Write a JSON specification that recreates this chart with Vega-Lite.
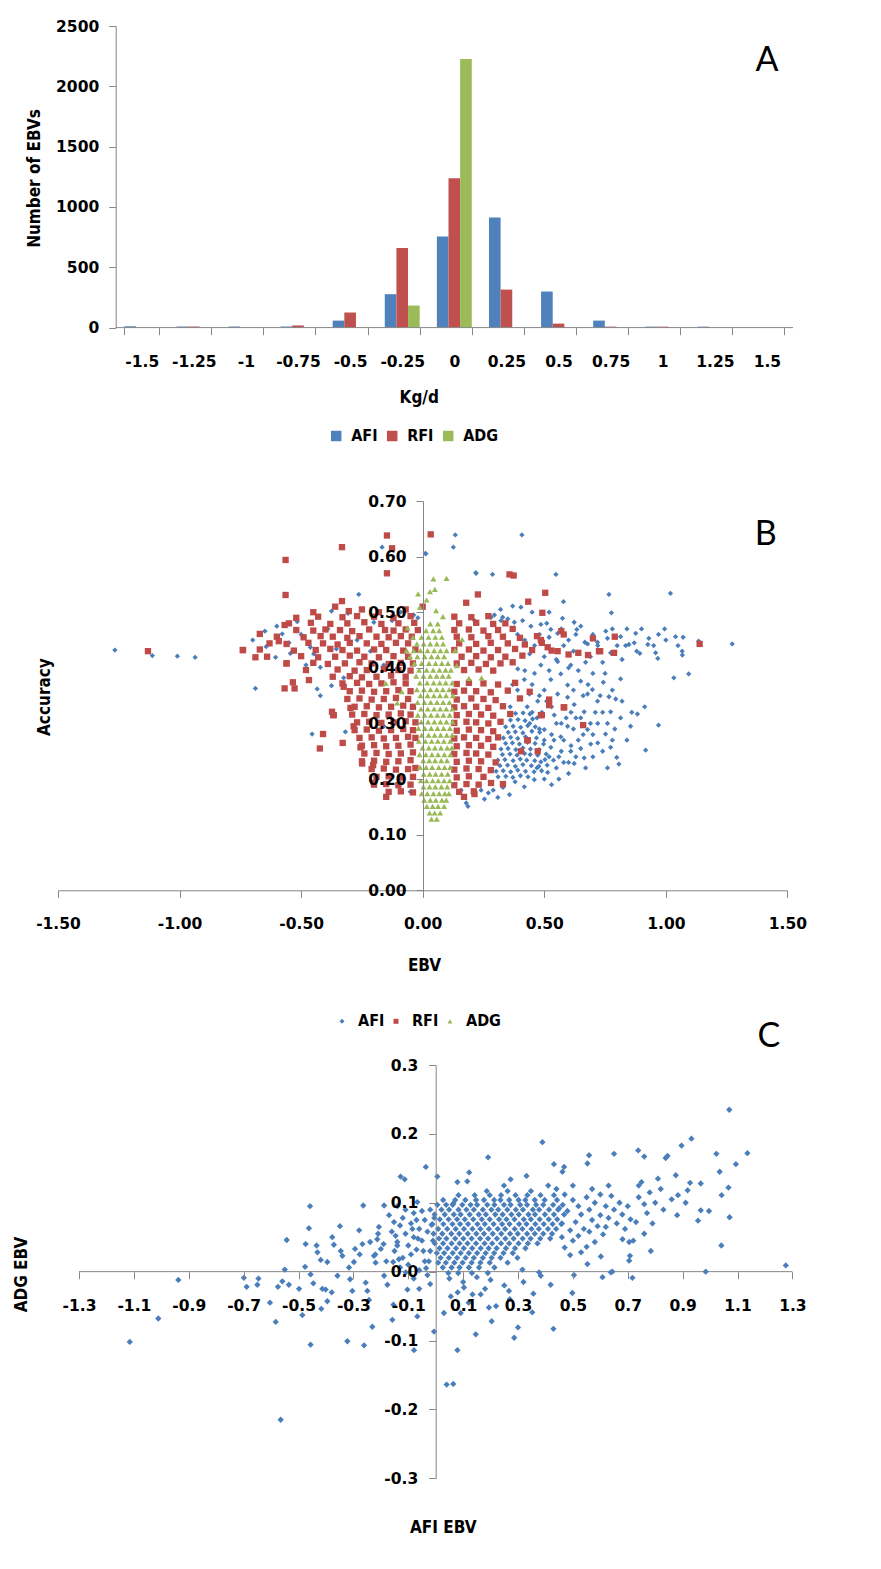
{
"$schema":"https://vega.github.io/schema/vega-lite/v6.json",
"background":"white",
"padding":{"left":8,"top":19,"right":0,"bottom":4},
"spacing":-11,
"config":{"view":{"stroke":null},"axis":{"domainColor":"#868686","tickColor":"#868686","tickSize":7,"grid":false,"labelFont":"DejaVu Sans","labelFontWeight":"bold","labelFontSize":15.5,"labelColor":"black","titleFont":"DejaVu Sans Condensed","titleFontWeight":"bold","titleFontSize":17,"titleColor":"black","labelFlush":false,"labelOverlap":false},"legend":{"symbolStrokeWidth":0,"labelFont":"DejaVu Sans Condensed","labelFontWeight":"bold","labelFontSize":16,"labelColor":"black","padding":0}},
"resolve":{"scale":{"color":"independent","shape":"independent"},"legend":{"color":"independent","shape":"independent"}},
"datasets":{
"histogram":[
{"k":"-1.5","s":"AFI","n":11},{"k":"-1.5","s":"RFI","n":0},{"k":"-1.5","s":"ADG","n":0},
{"k":"-1.25","s":"AFI","n":9},{"k":"-1.25","s":"RFI","n":9},{"k":"-1.25","s":"ADG","n":0},
{"k":"-1","s":"AFI","n":9},{"k":"-1","s":"RFI","n":0},{"k":"-1","s":"ADG","n":0},
{"k":"-0.75","s":"AFI","n":9},{"k":"-0.75","s":"RFI","n":18},{"k":"-0.75","s":"ADG","n":0},
{"k":"-0.5","s":"AFI","n":58},{"k":"-0.5","s":"RFI","n":125},{"k":"-0.5","s":"ADG","n":0},
{"k":"-0.25","s":"AFI","n":277},{"k":"-0.25","s":"RFI","n":659},{"k":"-0.25","s":"ADG","n":183},
{"k":"0","s":"AFI","n":756},{"k":"0","s":"RFI","n":1237},{"k":"0","s":"ADG","n":2226},
{"k":"0.25","s":"AFI","n":913},{"k":"0.25","s":"RFI","n":315},{"k":"0.25","s":"ADG","n":0},
{"k":"0.5","s":"AFI","n":299},{"k":"0.5","s":"RFI","n":33},{"k":"0.5","s":"ADG","n":0},
{"k":"0.75","s":"AFI","n":58},{"k":"0.75","s":"RFI","n":8},{"k":"0.75","s":"ADG","n":0},
{"k":"1","s":"AFI","n":8},{"k":"1","s":"RFI","n":8},{"k":"1","s":"ADG","n":0},
{"k":"1.25","s":"AFI","n":8},{"k":"1.25","s":"RFI","n":0},{"k":"1.25","s":"ADG","n":0},
{"k":"1.5","s":"AFI","n":0},{"k":"1.5","s":"RFI","n":0},{"k":"1.5","s":"ADG","n":0}
],
"afi_accuracy":[
{"x":-1.266,"y":0.432},{"x":-1.112,"y":0.422},{"x":-1.009,"y":0.421},{"x":-0.936,"y":0.419},
{"x":-0.699,"y":0.45},{"x":-0.649,"y":0.466},{"x":-0.644,"y":0.438},{"x":-0.605,"y":0.419},{"x":-0.688,"y":0.363},{"x":-0.578,"y":0.461},{"x":-0.544,"y":0.426},{"x":-0.516,"y":0.483},{"x":-0.448,"y":0.425},{"x":-0.462,"y":0.437},{"x":-0.434,"y":0.362},{"x":-0.421,"y":0.35},{"x":-0.455,"y":0.281},{"x":-0.421,"y":0.401},{"x":-0.375,"y":0.502},{"x":-0.375,"y":0.368},{"x":-0.325,"y":0.382},{"x":-0.318,"y":0.285},{"x":-0.263,"y":0.532},{"x":-0.247,"y":0.227},{"x":-0.167,"y":0.617},{"x":-0.037,"y":0.495},{"x":-0.051,"y":0.177},{"x":0.011,"y":0.606},{"x":-0.355,"y":0.434},{"x":-0.307,"y":0.498},{"x":-0.215,"y":0.43},{"x":-0.16,"y":0.405},{"x":-0.16,"y":0.295},{"x":-0.092,"y":0.193},{"x":-0.201,"y":0.482},{"x":-0.126,"y":0.485},{"x":-0.6,"y":0.475},{"x":-0.55,"y":0.445},{"x":-0.5,"y":0.46},{"x":-0.48,"y":0.405},{"x":-0.39,"y":0.47},{"x":-0.27,"y":0.45},{"x":-0.09,"y":0.5},{"x":-0.02,"y":0.49},
{"x":0.134,"y":0.639},{"x":0.126,"y":0.617},{"x":0.013,"y":0.605},{"x":0.218,"y":0.571},{"x":0.287,"y":0.568},{"x":0.408,"y":0.639},{"x":0.548,"y":0.568},{"x":0.22,"y":0.57},{"x":1.019,"y":0.534},{"x":0.766,"y":0.532},{"x":0.579,"y":0.519},{"x":0.776,"y":0.499},{"x":0.404,"y":0.509},{"x":0.37,"y":0.511},{"x":0.32,"y":0.505},{"x":0.45,"y":0.5},{"x":0.52,"y":0.5},
{"x":0.575,"y":0.489},{"x":0.623,"y":0.482},{"x":0.634,"y":0.469},{"x":0.667,"y":0.446},{"x":0.753,"y":0.466},{"x":0.814,"y":0.456},{"x":0.835,"y":0.44},{"x":0.876,"y":0.462},{"x":0.893,"y":0.426},{"x":0.93,"y":0.453},{"x":0.926,"y":0.442},{"x":0.958,"y":0.427},{"x":0.967,"y":0.417},{"x":0.995,"y":0.47},{"x":1.04,"y":0.456},{"x":1.071,"y":0.455},{"x":1.067,"y":0.43},{"x":1.068,"y":0.423},{"x":1.094,"y":0.389},{"x":1.033,"y":0.382},{"x":1.273,"y":0.443},{"x":1.135,"y":0.448},{"x":0.848,"y":0.442},{"x":0.773,"y":0.427},{"x":0.732,"y":0.43},{"x":0.678,"y":0.443},{"x":0.719,"y":0.446},{"x":0.76,"y":0.453},{"x":0.295,"y":0.495},{"x":0.322,"y":0.485},{"x":0.35,"y":0.488},{"x":0.377,"y":0.482},{"x":0.411,"y":0.485},{"x":0.445,"y":0.475},{"x":0.486,"y":0.478},{"x":0.527,"y":0.469},{"x":0.555,"y":0.462},{"x":0.281,"y":0.491},{"x":0.213,"y":0.485},{"x":0.329,"y":0.491},{"x":0.6,"y":0.45},{"x":0.65,"y":0.475},{"x":0.7,"y":0.46},{"x":0.8,"y":0.44},{"x":0.87,"y":0.445},{"x":0.9,"y":0.47},{"x":0.55,"y":0.415},{"x":0.62,"y":0.43},{"x":0.5,"y":0.42},{"x":0.46,"y":0.44},{"x":0.58,"y":0.44},{"x":0.69,"y":0.42},{"x":0.74,"y":0.41},{"x":0.82,"y":0.415},{"x":0.95,"y":0.44},{"x":1.0,"y":0.45},{"x":0.52,"y":0.455},{"x":0.44,"y":0.425},
{"x":0.6,"y":0.4},{"x":0.67,"y":0.41},{"x":0.72,"y":0.44},{"x":0.78,"y":0.47},{"x":0.84,"y":0.47},{"x":0.88,"y":0.43},{"x":0.97,"y":0.46},{"x":1.05,"y":0.44},{"x":0.63,"y":0.46},{"x":0.57,"y":0.47},{"x":0.48,"y":0.46},{"x":0.42,"y":0.45},{"x":0.39,"y":0.46},{"x":0.51,"y":0.48},
{"x":0.527,"y":0.379},{"x":0.568,"y":0.389},{"x":0.596,"y":0.369},{"x":0.65,"y":0.376},{"x":0.678,"y":0.353},{"x":0.719,"y":0.34},{"x":0.623,"y":0.334},{"x":0.596,"y":0.347},{"x":0.555,"y":0.353},{"x":0.5,"y":0.36},{"x":0.473,"y":0.34},{"x":0.439,"y":0.353},{"x":0.418,"y":0.379},{"x":0.391,"y":0.398},{"x":0.555,"y":0.411},{"x":0.609,"y":0.405},{"x":0.486,"y":0.405},{"x":0.814,"y":0.38},{"x":0.743,"y":0.374},{"x":0.698,"y":0.361},{"x":0.766,"y":0.348},{"x":0.794,"y":0.344},{"x":0.913,"y":0.33},{"x":0.46,"y":0.39},{"x":0.52,"y":0.395},{"x":0.64,"y":0.395},{"x":0.7,"y":0.39},{"x":0.45,"y":0.37},{"x":0.37,"y":0.37},{"x":0.4,"y":0.345},{"x":0.36,"y":0.33},{"x":0.66,"y":0.35},{"x":0.75,"y":0.39},
{"x":0.56,"y":0.2},{"x":0.53,"y":0.19},{"x":0.6,"y":0.23},{"x":0.63,"y":0.24},{"x":0.66,"y":0.28},{"x":0.69,"y":0.3},{"x":0.71,"y":0.32},{"x":0.76,"y":0.3},{"x":0.79,"y":0.29},{"x":0.84,"y":0.27},{"x":0.86,"y":0.32},{"x":0.82,"y":0.34},{"x":0.78,"y":0.36},{"x":0.73,"y":0.35},{"x":0.68,"y":0.37},{"x":0.62,"y":0.36},{"x":0.58,"y":0.33},{"x":0.51,"y":0.34},{"x":0.48,"y":0.35},{"x":0.43,"y":0.33},{"x":0.39,"y":0.36},{"x":0.42,"y":0.395},{"x":0.35,"y":0.36},{"x":0.58,"y":0.27},{"x":0.61,"y":0.26},{"x":0.67,"y":0.22},{"x":0.56,"y":0.24},{"x":0.53,"y":0.28},{"x":0.5,"y":0.27},{"x":0.48,"y":0.29},{"x":0.45,"y":0.32},{"x":0.59,"y":0.31},{"x":0.65,"y":0.31},{"x":0.7,"y":0.28},{"x":0.74,"y":0.25},{"x":0.76,"y":0.22},
{"x":0.883,"y":0.317},{"x":0.97,"y":0.297},{"x":0.855,"y":0.295},{"x":0.814,"y":0.31},{"x":0.773,"y":0.321},{"x":0.752,"y":0.281},{"x":0.78,"y":0.27},{"x":0.773,"y":0.257},{"x":0.798,"y":0.239},{"x":0.807,"y":0.227},{"x":0.917,"y":0.252},{"x":0.664,"y":0.321},{"x":0.678,"y":0.289},{"x":0.691,"y":0.263},{"x":0.664,"y":0.238},{"x":0.623,"y":0.228},{"x":0.609,"y":0.25},{"x":0.568,"y":0.276},{"x":0.596,"y":0.295},{"x":0.541,"y":0.315},{"x":0.5,"y":0.289},{"x":0.527,"y":0.257},{"x":0.486,"y":0.231},{"x":0.514,"y":0.212},{"x":0.459,"y":0.199},{"x":0.418,"y":0.186},{"x":0.357,"y":0.172},{"x":0.309,"y":0.167},{"x":0.254,"y":0.164},{"x":0.186,"y":0.151},{"x":0.179,"y":0.157},{"x":0.213,"y":0.173},{"x":0.158,"y":0.18},{"x":0.63,"y":0.31},{"x":0.72,"y":0.3},{"x":0.74,"y":0.32},{"x":0.64,"y":0.27},{"x":0.7,"y":0.24},{"x":0.58,"y":0.23},{"x":0.55,"y":0.22},{"x":0.6,"y":0.21},{"x":0.65,"y":0.255},{"x":0.72,"y":0.265},{"x":0.55,"y":0.3},{"x":0.61,"y":0.32},{"x":0.53,"y":0.33},{"x":0.47,"y":0.31},{"x":0.44,"y":0.3},{"x":0.49,"y":0.32},{"x":0.57,"y":0.25},{"x":0.54,"y":0.27},{"x":0.52,"y":0.24},{"x":0.57,"y":0.3},{"x":0.62,"y":0.29},{"x":0.5,"y":0.2},{"x":0.47,"y":0.22},{"x":0.29,"y":0.18},{"x":0.33,"y":0.185},{"x":0.38,"y":0.195},{"x":0.27,"y":0.175},{"x":0.24,"y":0.18},
{"x":0.31,"y":0.204},{"x":0.342,"y":0.205},{"x":0.371,"y":0.203},{"x":0.402,"y":0.206},{"x":0.433,"y":0.204},{"x":0.302,"y":0.214},{"x":0.331,"y":0.215},{"x":0.362,"y":0.213},{"x":0.391,"y":0.216},{"x":0.423,"y":0.214},{"x":0.458,"y":0.213},{"x":0.489,"y":0.215},{"x":0.318,"y":0.224},{"x":0.349,"y":0.225},{"x":0.381,"y":0.223},{"x":0.412,"y":0.226},{"x":0.447,"y":0.224},{"x":0.478,"y":0.223},{"x":0.512,"y":0.225},{"x":0.309,"y":0.234},{"x":0.338,"y":0.235},{"x":0.372,"y":0.233},{"x":0.401,"y":0.236},{"x":0.428,"y":0.234},{"x":0.461,"y":0.233},{"x":0.503,"y":0.235},{"x":0.538,"y":0.234},{"x":0.328,"y":0.244},{"x":0.359,"y":0.245},{"x":0.388,"y":0.243},{"x":0.419,"y":0.246},{"x":0.442,"y":0.244},{"x":0.473,"y":0.243},{"x":0.508,"y":0.245},{"x":0.322,"y":0.254},{"x":0.351,"y":0.255},{"x":0.383,"y":0.253},{"x":0.412,"y":0.256},{"x":0.443,"y":0.254},{"x":0.479,"y":0.253},{"x":0.341,"y":0.264},{"x":0.369,"y":0.265},{"x":0.398,"y":0.263},{"x":0.431,"y":0.266},{"x":0.462,"y":0.264},{"x":0.497,"y":0.263},{"x":0.332,"y":0.274},{"x":0.362,"y":0.275},{"x":0.391,"y":0.273},{"x":0.423,"y":0.276},{"x":0.468,"y":0.274},{"x":0.352,"y":0.284},{"x":0.381,"y":0.285},{"x":0.412,"y":0.283},{"x":0.449,"y":0.286},{"x":0.481,"y":0.284},{"x":0.341,"y":0.294},{"x":0.372,"y":0.295},{"x":0.403,"y":0.293},{"x":0.432,"y":0.296},{"x":0.463,"y":0.294},{"x":0.361,"y":0.306},{"x":0.392,"y":0.307},{"x":0.421,"y":0.305},{"x":0.452,"y":0.308},{"x":0.382,"y":0.318},{"x":0.413,"y":0.319},{"x":0.441,"y":0.317}
],
"rfi_accuracy":[
{"x":-0.43,"y":0.492},{"x":-0.33,"y":0.491},{"x":-0.27,"y":0.493},{"x":-0.2,"y":0.492},{"x":-0.12,"y":0.49},{"x":-0.05,"y":0.493},
{"x":-0.55,"y":0.48},{"x":-0.46,"y":0.481},{"x":-0.38,"y":0.479},{"x":-0.31,"y":0.48},{"x":-0.24,"y":0.482},{"x":-0.17,"y":0.479},{"x":-0.1,"y":0.48},{"x":-0.035,"y":0.481},
{"x":-0.52,"y":0.468},{"x":-0.45,"y":0.467},{"x":-0.4,"y":0.469},{"x":-0.34,"y":0.468},{"x":-0.29,"y":0.466},{"x":-0.22,"y":0.469},{"x":-0.155,"y":0.468},{"x":-0.12,"y":0.467},{"x":-0.07,"y":0.469},{"x":-0.02,"y":0.468},
{"x":-0.6,"y":0.456},{"x":-0.49,"y":0.455},{"x":-0.42,"y":0.457},{"x":-0.37,"y":0.456},{"x":-0.31,"y":0.454},{"x":-0.26,"y":0.457},{"x":-0.19,"y":0.456},{"x":-0.14,"y":0.455},{"x":-0.09,"y":0.457},{"x":-0.045,"y":0.456},
{"x":-0.63,"y":0.444},{"x":-0.56,"y":0.443},{"x":-0.47,"y":0.445},{"x":-0.41,"y":0.444},{"x":-0.35,"y":0.442},{"x":-0.3,"y":0.445},{"x":-0.23,"y":0.444},{"x":-0.17,"y":0.443},{"x":-0.11,"y":0.445},{"x":-0.06,"y":0.444},
{"x":-0.74,"y":0.432},{"x":-0.67,"y":0.433},{"x":-0.53,"y":0.431},{"x":-0.44,"y":0.432},{"x":-0.38,"y":0.434},{"x":-0.33,"y":0.432},{"x":-0.27,"y":0.431},{"x":-0.2,"y":0.433},{"x":-0.15,"y":0.432},{"x":-0.08,"y":0.431},{"x":-0.03,"y":0.433},
{"x":-0.64,"y":0.42},{"x":-0.5,"y":0.421},{"x":-0.43,"y":0.419},{"x":-0.36,"y":0.42},{"x":-0.3,"y":0.422},{"x":-0.24,"y":0.42},{"x":-0.18,"y":0.419},{"x":-0.12,"y":0.421},{"x":-0.06,"y":0.42},
{"x":-0.56,"y":0.408},{"x":-0.45,"y":0.409},{"x":-0.39,"y":0.407},{"x":-0.32,"y":0.408},{"x":-0.26,"y":0.41},{"x":-0.21,"y":0.408},{"x":-0.14,"y":0.407},{"x":-0.09,"y":0.409},{"x":-0.04,"y":0.408},
{"x":-0.48,"y":0.396},{"x":-0.35,"y":0.397},{"x":-0.28,"y":0.395},{"x":-0.23,"y":0.396},{"x":-0.16,"y":0.398},{"x":-0.1,"y":0.396},{"x":-0.05,"y":0.395},
{"x":-0.37,"y":0.384},{"x":-0.3,"y":0.385},{"x":-0.25,"y":0.383},{"x":-0.19,"y":0.384},{"x":-0.13,"y":0.386},{"x":-0.07,"y":0.384},
{"x":-1.13,"y":0.43},{"x":-0.739,"y":0.432},{"x":-0.688,"y":0.419},{"x":-0.67,"y":0.461},{"x":-0.592,"y":0.448},{"x":-0.568,"y":0.477},{"x":-0.564,"y":0.531},{"x":-0.564,"y":0.594},{"x":-0.56,"y":0.408},{"x":-0.568,"y":0.363},{"x":-0.527,"y":0.363},{"x":-0.534,"y":0.374},{"x":-0.468,"y":0.378},{"x":-0.41,"y":0.281},{"x":-0.423,"y":0.255},{"x":-0.329,"y":0.265},{"x":-0.368,"y":0.315},{"x":-0.332,"y":0.617},{"x":-0.147,"y":0.638},{"x":-0.126,"y":0.615},{"x":-0.147,"y":0.57},{"x":-0.332,"y":0.52},{"x":-0.304,"y":0.502},{"x":0.033,"y":0.64},{"x":-0.52,"y":0.49},{"x":-0.45,"y":0.5},{"x":-0.36,"y":0.51},{"x":-0.25,"y":0.505},{"x":-0.18,"y":0.5},{"x":-0.07,"y":0.505},{"x":0.0,"y":0.51},
{"x":0.13,"y":0.492},{"x":0.2,"y":0.491},{"x":0.27,"y":0.493},
{"x":0.15,"y":0.48},{"x":0.22,"y":0.481},{"x":0.29,"y":0.479},{"x":0.34,"y":0.48},
{"x":0.13,"y":0.468},{"x":0.19,"y":0.469},{"x":0.25,"y":0.467},{"x":0.31,"y":0.468},{"x":0.37,"y":0.47},{"x":0.57,"y":0.466},
{"x":0.14,"y":0.456},{"x":0.2,"y":0.455},{"x":0.27,"y":0.457},{"x":0.33,"y":0.456},{"x":0.4,"y":0.454},{"x":0.47,"y":0.457},{"x":0.79,"y":0.456},
{"x":0.15,"y":0.444},{"x":0.22,"y":0.443},{"x":0.28,"y":0.445},{"x":0.35,"y":0.444},{"x":0.42,"y":0.442},{"x":0.49,"y":0.445},{"x":0.7,"y":0.453},
{"x":0.13,"y":0.432},{"x":0.19,"y":0.433},{"x":0.25,"y":0.431},{"x":0.31,"y":0.432},{"x":0.38,"y":0.434},{"x":0.45,"y":0.432},{"x":0.53,"y":0.431},{"x":0.6,"y":0.424},{"x":0.73,"y":0.43},
{"x":0.16,"y":0.42},{"x":0.22,"y":0.421},{"x":0.28,"y":0.419},{"x":0.34,"y":0.42},{"x":0.41,"y":0.422},{"x":0.64,"y":0.427},{"x":0.68,"y":0.423},
{"x":0.14,"y":0.408},{"x":0.2,"y":0.409},{"x":0.26,"y":0.407},{"x":0.32,"y":0.408},{"x":0.37,"y":0.41},
{"x":0.17,"y":0.396},{"x":0.23,"y":0.397},{"x":0.29,"y":0.395},
{"x":0.357,"y":0.568},{"x":0.374,"y":0.566},{"x":0.227,"y":0.532},{"x":0.179,"y":0.517},{"x":0.504,"y":0.535},{"x":0.434,"y":0.519},{"x":0.492,"y":0.499},{"x":1.139,"y":0.443},{"x":0.787,"y":0.427},{"x":0.725,"y":0.43},{"x":0.555,"y":0.43},{"x":0.514,"y":0.437},{"x":0.486,"y":0.45},{"x":0.58,"y":0.46},
{"x":-0.33,"y":0.372},{"x":-0.27,"y":0.373},{"x":-0.22,"y":0.371},{"x":-0.17,"y":0.372},{"x":-0.12,"y":0.374},{"x":-0.07,"y":0.372},{"x":0.14,"y":0.371},{"x":0.19,"y":0.373},{"x":0.25,"y":0.372},{"x":0.31,"y":0.37},{"x":0.38,"y":0.373},
{"x":-0.3,"y":0.358},{"x":-0.25,"y":0.359},{"x":-0.2,"y":0.357},{"x":-0.15,"y":0.358},{"x":-0.1,"y":0.36},{"x":-0.05,"y":0.358},{"x":0.13,"y":0.357},{"x":0.17,"y":0.359},{"x":0.22,"y":0.358},{"x":0.28,"y":0.356},{"x":0.35,"y":0.359},{"x":0.44,"y":0.357},
{"x":-0.31,"y":0.344},{"x":-0.26,"y":0.345},{"x":-0.21,"y":0.343},{"x":-0.16,"y":0.344},{"x":-0.11,"y":0.346},{"x":-0.06,"y":0.344},{"x":0.14,"y":0.343},{"x":0.2,"y":0.345},{"x":0.25,"y":0.344},{"x":0.3,"y":0.342},{"x":0.4,"y":0.345},{"x":0.52,"y":0.343},
{"x":-0.28,"y":0.33},{"x":-0.23,"y":0.331},{"x":-0.18,"y":0.329},{"x":-0.13,"y":0.33},{"x":-0.08,"y":0.332},{"x":-0.04,"y":0.33},{"x":0.13,"y":0.329},{"x":0.17,"y":0.331},{"x":0.22,"y":0.33},{"x":0.27,"y":0.328},{"x":0.33,"y":0.331},{"x":0.58,"y":0.329},
{"x":-0.29,"y":0.316},{"x":-0.24,"y":0.317},{"x":-0.19,"y":0.315},{"x":-0.14,"y":0.316},{"x":-0.09,"y":0.318},{"x":-0.05,"y":0.316},{"x":0.14,"y":0.315},{"x":0.19,"y":0.317},{"x":0.24,"y":0.316},{"x":0.29,"y":0.314},{"x":0.36,"y":0.317},{"x":0.49,"y":0.315},
{"x":-0.27,"y":0.302},{"x":-0.22,"y":0.303},{"x":-0.17,"y":0.301},{"x":-0.12,"y":0.302},{"x":-0.07,"y":0.304},{"x":-0.03,"y":0.302},{"x":0.13,"y":0.301},{"x":0.18,"y":0.303},{"x":0.22,"y":0.302},{"x":0.27,"y":0.3},{"x":0.32,"y":0.303},
{"x":-0.28,"y":0.288},{"x":-0.23,"y":0.289},{"x":-0.18,"y":0.287},{"x":-0.13,"y":0.288},{"x":-0.08,"y":0.29},{"x":-0.04,"y":0.288},{"x":0.14,"y":0.287},{"x":0.19,"y":0.289},{"x":0.24,"y":0.288},{"x":0.29,"y":0.286},{"x":0.66,"y":0.297},
{"x":-0.26,"y":0.274},{"x":-0.21,"y":0.275},{"x":-0.16,"y":0.273},{"x":-0.11,"y":0.274},{"x":-0.06,"y":0.276},{"x":-0.03,"y":0.274},{"x":0.13,"y":0.273},{"x":0.17,"y":0.275},{"x":0.22,"y":0.274},{"x":0.27,"y":0.272},{"x":0.31,"y":0.275},{"x":0.43,"y":0.27},
{"x":-0.25,"y":0.26},{"x":-0.2,"y":0.261},{"x":-0.15,"y":0.259},{"x":-0.1,"y":0.26},{"x":-0.05,"y":0.262},{"x":0.14,"y":0.259},{"x":0.19,"y":0.261},{"x":0.24,"y":0.26},{"x":0.29,"y":0.258},{"x":0.404,"y":0.25},{"x":0.473,"y":0.25},
{"x":-0.24,"y":0.246},{"x":-0.19,"y":0.247},{"x":-0.14,"y":0.245},{"x":-0.09,"y":0.246},{"x":-0.04,"y":0.248},{"x":0.13,"y":0.245},{"x":0.18,"y":0.247},{"x":0.22,"y":0.246},{"x":0.27,"y":0.244},
{"x":-0.25,"y":0.232},{"x":-0.2,"y":0.233},{"x":-0.15,"y":0.231},{"x":-0.1,"y":0.232},{"x":-0.05,"y":0.234},{"x":0.14,"y":0.231},{"x":0.19,"y":0.233},{"x":0.24,"y":0.232},{"x":0.3,"y":0.23},
{"x":-0.21,"y":0.218},{"x":-0.16,"y":0.219},{"x":-0.11,"y":0.217},{"x":-0.06,"y":0.218},{"x":-0.03,"y":0.22},{"x":0.13,"y":0.217},{"x":0.18,"y":0.219},{"x":0.23,"y":0.218},{"x":0.28,"y":0.216},
{"x":-0.19,"y":0.204},{"x":-0.14,"y":0.205},{"x":-0.09,"y":0.203},{"x":-0.04,"y":0.204},{"x":0.14,"y":0.203},{"x":0.19,"y":0.205},{"x":0.25,"y":0.204},
{"x":-0.2,"y":0.19},{"x":-0.15,"y":0.191},{"x":-0.1,"y":0.189},{"x":-0.05,"y":0.19},{"x":0.13,"y":0.189},{"x":0.18,"y":0.191},{"x":0.23,"y":0.19},{"x":0.33,"y":0.191},
{"x":-0.14,"y":0.177},{"x":-0.09,"y":0.178},{"x":-0.04,"y":0.176},{"x":0.15,"y":0.177},{"x":0.21,"y":0.178},{"x":-0.15,"y":0.168},{"x":0.17,"y":0.168},
{"x":-0.325,"y":0.366},{"x":-0.297,"y":0.328},{"x":-0.284,"y":0.295},{"x":-0.256,"y":0.257},{"x":-0.249,"y":0.228},{"x":-0.204,"y":0.225},{"x":-0.201,"y":0.193},{"x":-0.366,"y":0.315},{"x":-0.373,"y":0.321},{"x":0.213,"y":0.173},{"x":0.281,"y":0.193},{"x":0.432,"y":0.27},{"x":0.52,"y":0.333},{"x":0.582,"y":0.329},{"x":0.486,"y":0.315}
],
"adg_accuracy":[
{"x":0.036,"y":0.128},{"x":0.058,"y":0.128},
{"x":0.028,"y":0.139},{"x":0.049,"y":0.139},{"x":0.072,"y":0.139},
{"x":0.017,"y":0.151},{"x":0.041,"y":0.151},{"x":0.063,"y":0.151},{"x":0.088,"y":0.151},
{"x":0.006,"y":0.162},{"x":0.031,"y":0.162},{"x":0.054,"y":0.162},{"x":0.079,"y":0.162},{"x":0.097,"y":0.162},
{"x":-0.004,"y":0.174},{"x":0.019,"y":0.174},{"x":0.044,"y":0.174},{"x":0.068,"y":0.174},{"x":0.091,"y":0.174},{"x":0.108,"y":0.174},
{"x":0.003,"y":0.186},{"x":0.028,"y":0.186},{"x":0.052,"y":0.186},{"x":0.077,"y":0.186},{"x":0.101,"y":0.186},
{"x":-0.008,"y":0.197},{"x":0.016,"y":0.197},{"x":0.041,"y":0.197},{"x":0.064,"y":0.197},{"x":0.088,"y":0.197},{"x":0.111,"y":0.197},
{"x":0.004,"y":0.209},{"x":0.029,"y":0.209},{"x":0.053,"y":0.209},{"x":0.078,"y":0.209},{"x":0.103,"y":0.209},
{"x":-0.011,"y":0.221},{"x":0.014,"y":0.221},{"x":0.039,"y":0.221},{"x":0.066,"y":0.221},{"x":0.09,"y":0.221},{"x":0.113,"y":0.221},
{"x":0.002,"y":0.233},{"x":0.027,"y":0.233},{"x":0.051,"y":0.233},{"x":0.076,"y":0.233},{"x":0.1,"y":0.233},
{"x":-0.013,"y":0.244},{"x":0.013,"y":0.244},{"x":0.038,"y":0.244},{"x":0.063,"y":0.244},{"x":0.089,"y":0.244},{"x":0.114,"y":0.244},
{"x":-0.001,"y":0.256},{"x":0.025,"y":0.256},{"x":0.05,"y":0.256},{"x":0.075,"y":0.256},{"x":0.101,"y":0.256},{"x":0.12,"y":0.256},
{"x":-0.016,"y":0.268},{"x":0.011,"y":0.268},{"x":0.037,"y":0.268},{"x":0.062,"y":0.268},{"x":0.087,"y":0.268},{"x":0.113,"y":0.268},
{"x":-0.004,"y":0.279},{"x":0.024,"y":0.279},{"x":0.049,"y":0.279},{"x":0.074,"y":0.279},{"x":0.099,"y":0.279},{"x":0.121,"y":0.279},
{"x":-0.018,"y":0.291},{"x":0.009,"y":0.291},{"x":0.035,"y":0.291},{"x":0.061,"y":0.291},{"x":0.086,"y":0.291},{"x":0.112,"y":0.291},
{"x":-0.006,"y":0.303},{"x":0.022,"y":0.303},{"x":0.048,"y":0.303},{"x":0.073,"y":0.303},{"x":0.098,"y":0.303},{"x":0.123,"y":0.303},
{"x":-0.02,"y":0.315},{"x":0.008,"y":0.315},{"x":0.034,"y":0.315},{"x":0.06,"y":0.315},{"x":0.085,"y":0.315},{"x":0.111,"y":0.315},
{"x":-0.007,"y":0.326},{"x":0.021,"y":0.326},{"x":0.047,"y":0.326},{"x":0.072,"y":0.326},{"x":0.097,"y":0.326},{"x":0.122,"y":0.326},
{"x":-0.021,"y":0.338},{"x":0.007,"y":0.338},{"x":0.033,"y":0.338},{"x":0.059,"y":0.338},{"x":0.084,"y":0.338},{"x":0.11,"y":0.338},
{"x":-0.009,"y":0.35},{"x":0.02,"y":0.35},{"x":0.046,"y":0.35},{"x":0.071,"y":0.35},{"x":0.096,"y":0.35},{"x":0.124,"y":0.35},
{"x":-0.024,"y":0.361},{"x":0.005,"y":0.361},{"x":0.032,"y":0.361},{"x":0.058,"y":0.361},{"x":0.083,"y":0.361},{"x":0.109,"y":0.361},
{"x":-0.012,"y":0.373},{"x":0.018,"y":0.373},{"x":0.045,"y":0.373},{"x":0.07,"y":0.373},{"x":0.095,"y":0.373},{"x":0.121,"y":0.373},
{"x":-0.027,"y":0.385},{"x":0.003,"y":0.385},{"x":0.031,"y":0.385},{"x":0.057,"y":0.385},{"x":0.082,"y":0.385},{"x":0.107,"y":0.385},
{"x":-0.015,"y":0.396},{"x":0.016,"y":0.396},{"x":0.043,"y":0.396},{"x":0.069,"y":0.396},{"x":0.094,"y":0.396},{"x":0.116,"y":0.396},
{"x":-0.034,"y":0.408},{"x":-0.004,"y":0.408},{"x":0.026,"y":0.408},{"x":0.053,"y":0.408},{"x":0.079,"y":0.408},{"x":0.104,"y":0.408},
{"x":-0.052,"y":0.42},{"x":-0.022,"y":0.42},{"x":0.008,"y":0.42},{"x":0.036,"y":0.42},{"x":0.062,"y":0.42},{"x":0.088,"y":0.42},
{"x":-0.066,"y":0.431},{"x":-0.037,"y":0.431},{"x":-0.009,"y":0.431},{"x":0.02,"y":0.431},{"x":0.047,"y":0.431},{"x":0.073,"y":0.431},{"x":0.098,"y":0.431},
{"x":-0.024,"y":0.443},{"x":0.004,"y":0.443},{"x":0.031,"y":0.443},{"x":0.058,"y":0.443},{"x":0.084,"y":0.443},
{"x":-0.005,"y":0.455},{"x":0.024,"y":0.455},{"x":0.052,"y":0.455},{"x":0.079,"y":0.455},
{"x":0.014,"y":0.467},{"x":0.043,"y":0.467},{"x":0.068,"y":0.467},
{"x":0.031,"y":0.479},{"x":0.062,"y":0.479},
{"x":0.044,"y":0.56},{"x":0.098,"y":0.561},{"x":-0.019,"y":0.533},{"x":0.03,"y":0.537},{"x":0.05,"y":0.541},{"x":0.016,"y":0.522},{"x":-0.012,"y":0.509},{"x":0.055,"y":0.503},{"x":0.083,"y":0.492},{"x":0.133,"y":0.432},{"x":0.162,"y":0.451},{"x":0.19,"y":0.381},{"x":0.242,"y":0.382},{"x":-0.152,"y":0.372},{"x":-0.086,"y":0.357},{"x":-0.105,"y":0.337},{"x":-0.062,"y":0.472},{"x":0.14,"y":0.404},{"x":-0.04,"y":0.455}
],
"afi_adg":[
{"x":-1.115,"y":-0.102},{"x":-1.011,"y":-0.068},{"x":-0.938,"y":-0.012},{"x":-0.699,"y":-0.009},{"x":-0.689,"y":-0.022},{"x":-0.646,"y":-0.01},{"x":-0.65,"y":-0.019},{"x":-0.604,"y":-0.045},{"x":-0.583,"y":-0.073},{"x":-0.565,"y":-0.215},{"x":-0.55,"y":0.003},{"x":-0.543,"y":0.046},{"x":-0.575,"y":-0.022},{"x":-0.559,"y":-0.014},{"x":-0.535,"y":-0.019},{"x":-0.498,"y":-0.025},{"x":-0.486,"y":-0.063},{"x":-0.476,"y":0.007},{"x":-0.474,"y":0.04},{"x":-0.462,"y":0.063},{"x":-0.458,"y":0.095},{"x":-0.456,"y":-0.106},{"x":-0.456,"y":-0.004},{"x":-0.446,"y":-0.017},{"x":-0.434,"y":0.038},{"x":-0.431,"y":0.028},{"x":-0.419,"y":0.017},{"x":-0.417,"y":-0.054},{"x":-0.413,"y":-0.025},{"x":-0.401,"y":-0.026},{"x":-0.395,"y":-0.043},{"x":-0.395,"y":0.014},{"x":-0.379,"y":-0.03},{"x":-0.377,"y":0.05},{"x":-0.371,"y":0.039},{"x":-0.358,"y":-0.006},{"x":-0.349,"y":0.066},{"x":-0.346,"y":0.03},{"x":-0.34,"y":0.023},{"x":-0.322,"y":-0.101},{"x":-0.316,"y":0.006},{"x":-0.312,"y":-0.011},{"x":-0.304,"y":-0.028},{"x":-0.298,"y":0.014},{"x":-0.294,"y":0.033},{"x":-0.279,"y":0.06},{"x":-0.277,"y":0.025},{"x":-0.267,"y":0.04},{"x":-0.264,"y":0.096},{"x":-0.261,"y":-0.107},{"x":-0.255,"y":-0.016},{"x":-0.249,"y":-0.028},{"x":-0.243,"y":-0.041},{"x":-0.231,"y":-0.08},{"x":-0.239,"y":0.043},{"x":-0.225,"y":0.023},{"x":-0.219,"y":0.013},{"x":-0.213,"y":0.047},{"x":-0.207,"y":0.065},{"x":-0.2,"y":0.033},{"x":-0.188,"y":0.096},{"x":-0.188,"y":-0.006},{"x":-0.176,"y":-0.019},{"x":-0.158,"y":-0.07},{"x":-0.154,"y":-0.048},{"x":-0.152,"y":0.072},{"x":-0.146,"y":0.052},{"x":-0.14,"y":0.038},{"x":-0.134,"y":0.018},{"x":-0.128,"y":0.138},{"x":-0.113,"y":0.134},{"x":-0.109,"y":-0.001},{"x":-0.103,"y":-0.026},{"x":-0.079,"y":-0.114},{"x":-0.067,"y":-0.065},{"x":-0.067,"y":0.101},{"x":-0.036,"y":0.152},{"x":-0.006,"y":-0.087},{"x":0.006,"y":0.138},
{"x":-0.02,"y":0.09},{"x":-0.04,"y":0.075},{"x":-0.03,"y":0.058},{"x":-0.05,"y":0.045},{"x":-0.02,"y":0.03},{"x":-0.04,"y":0.015},{"x":-0.06,"y":0.062},{"x":-0.07,"y":0.032},{"x":-0.08,"y":0.05},{"x":-0.09,"y":0.07},{"x":-0.1,"y":0.038},{"x":-0.11,"y":0.055},{"x":-0.12,"y":0.02},{"x":-0.13,"y":0.067},{"x":-0.14,"y":0.043},{"x":-0.15,"y":0.03},{"x":-0.16,"y":0.058},{"x":-0.17,"y":0.082},{"x":-0.18,"y":0.015},{"x":-0.19,"y":0.04},{"x":-0.21,"y":0.055},{"x":-0.22,"y":0.025},{"x":-0.06,"y":0.002},{"x":-0.08,"y":-0.01},{"x":-0.03,"y":-0.005},{"x":-0.1,"y":0.01},{"x":-0.05,"y":0.088},{"x":-0.08,"y":0.085},{"x":-0.11,"y":0.09},{"x":-0.13,"y":0.006},{"x":-0.02,"y":-0.018},{"x":-0.06,"y":-0.025},{"x":-0.01,"y":0.045},{"x":-0.015,"y":0.068},{"x":-0.035,"y":0.005},{"x":-0.09,"y":0.025},{"x":-0.12,"y":0.078},{"x":-0.155,"y":0.014},{"x":-0.07,"y":0.075},{"x":-0.045,"y":0.03},{"x":-0.025,"y":0.015},{"x":-0.065,"y":0.048},{"x":-0.005,"y":0.078},{"x":-0.085,"y":0.062},{"x":-0.14,"y":0.095},
{"x":0.186,"y":0.117},{"x":0.262,"y":0.117},{"x":0.347,"y":0.117},
{"x":0.083,"y":0.111},{"x":0.142,"y":0.111},{"x":0.197,"y":0.111},{"x":0.238,"y":0.111},{"x":0.291,"y":0.111},{"x":0.334,"y":0.111},{"x":0.382,"y":0.111},{"x":0.431,"y":0.111},
{"x":0.027,"y":0.104},{"x":0.071,"y":0.104},{"x":0.108,"y":0.104},{"x":0.147,"y":0.104},{"x":0.176,"y":0.104},{"x":0.213,"y":0.104},{"x":0.236,"y":0.104},{"x":0.268,"y":0.104},{"x":0.302,"y":0.104},{"x":0.327,"y":0.104},{"x":0.361,"y":0.104},{"x":0.397,"y":0.104},{"x":0.442,"y":0.104},
{"x":0.006,"y":0.097},{"x":0.038,"y":0.097},{"x":0.062,"y":0.097},{"x":0.097,"y":0.097},{"x":0.127,"y":0.097},{"x":0.151,"y":0.097},{"x":0.188,"y":0.097},{"x":0.214,"y":0.097},{"x":0.249,"y":0.097},{"x":0.273,"y":0.097},{"x":0.308,"y":0.097},{"x":0.333,"y":0.097},{"x":0.366,"y":0.097},{"x":0.392,"y":0.097},{"x":0.428,"y":0.097},{"x":0.463,"y":0.097},
{"x":0.021,"y":0.09},{"x":0.049,"y":0.09},{"x":0.083,"y":0.09},{"x":0.112,"y":0.09},{"x":0.139,"y":0.09},{"x":0.172,"y":0.09},{"x":0.203,"y":0.09},{"x":0.228,"y":0.09},{"x":0.261,"y":0.09},{"x":0.292,"y":0.09},{"x":0.318,"y":0.09},{"x":0.354,"y":0.09},{"x":0.377,"y":0.09},{"x":0.413,"y":0.09},{"x":0.446,"y":0.09},
{"x":-0.004,"y":0.083},{"x":0.033,"y":0.083},{"x":0.066,"y":0.083},{"x":0.091,"y":0.083},{"x":0.124,"y":0.083},{"x":0.157,"y":0.083},{"x":0.183,"y":0.083},{"x":0.217,"y":0.083},{"x":0.244,"y":0.083},{"x":0.276,"y":0.083},{"x":0.303,"y":0.083},{"x":0.338,"y":0.083},{"x":0.362,"y":0.083},{"x":0.398,"y":0.083},{"x":0.431,"y":0.083},{"x":0.468,"y":0.083},
{"x":0.015,"y":0.076},{"x":0.047,"y":0.076},{"x":0.078,"y":0.076},{"x":0.106,"y":0.076},{"x":0.137,"y":0.076},{"x":0.168,"y":0.076},{"x":0.197,"y":0.076},{"x":0.231,"y":0.076},{"x":0.258,"y":0.076},{"x":0.287,"y":0.076},{"x":0.321,"y":0.076},{"x":0.347,"y":0.076},{"x":0.379,"y":0.076},{"x":0.412,"y":0.076},{"x":0.443,"y":0.076},
{"x":-0.012,"y":0.069},{"x":0.028,"y":0.069},{"x":0.061,"y":0.069},{"x":0.089,"y":0.069},{"x":0.118,"y":0.069},{"x":0.152,"y":0.069},{"x":0.179,"y":0.069},{"x":0.211,"y":0.069},{"x":0.242,"y":0.069},{"x":0.269,"y":0.069},{"x":0.304,"y":0.069},{"x":0.331,"y":0.069},{"x":0.363,"y":0.069},{"x":0.394,"y":0.069},{"x":0.426,"y":0.069},{"x":0.458,"y":0.069},
{"x":0.009,"y":0.062},{"x":0.042,"y":0.062},{"x":0.073,"y":0.062},{"x":0.103,"y":0.062},{"x":0.134,"y":0.062},{"x":0.163,"y":0.062},{"x":0.194,"y":0.062},{"x":0.226,"y":0.062},{"x":0.253,"y":0.062},{"x":0.288,"y":0.062},{"x":0.316,"y":0.062},{"x":0.349,"y":0.062},{"x":0.376,"y":0.062},{"x":0.409,"y":0.062},{"x":0.439,"y":0.062},
{"x":-0.008,"y":0.055},{"x":0.024,"y":0.055},{"x":0.057,"y":0.055},{"x":0.086,"y":0.055},{"x":0.117,"y":0.055},{"x":0.148,"y":0.055},{"x":0.176,"y":0.055},{"x":0.208,"y":0.055},{"x":0.239,"y":0.055},{"x":0.271,"y":0.055},{"x":0.299,"y":0.055},{"x":0.333,"y":0.055},{"x":0.361,"y":0.055},{"x":0.392,"y":0.055},{"x":0.424,"y":0.055},
{"x":0.012,"y":0.048},{"x":0.039,"y":0.048},{"x":0.071,"y":0.048},{"x":0.101,"y":0.048},{"x":0.131,"y":0.048},{"x":0.162,"y":0.048},{"x":0.191,"y":0.048},{"x":0.223,"y":0.048},{"x":0.254,"y":0.048},{"x":0.284,"y":0.048},{"x":0.317,"y":0.048},{"x":0.346,"y":0.048},{"x":0.381,"y":0.048},{"x":0.417,"y":0.048},
{"x":-0.003,"y":0.041},{"x":0.027,"y":0.041},{"x":0.058,"y":0.041},{"x":0.087,"y":0.041},{"x":0.116,"y":0.041},{"x":0.147,"y":0.041},{"x":0.178,"y":0.041},{"x":0.206,"y":0.041},{"x":0.238,"y":0.041},{"x":0.268,"y":0.041},{"x":0.302,"y":0.041},{"x":0.336,"y":0.041},{"x":0.371,"y":0.041},
{"x":0.014,"y":0.034},{"x":0.043,"y":0.034},{"x":0.074,"y":0.034},{"x":0.102,"y":0.034},{"x":0.133,"y":0.034},{"x":0.164,"y":0.034},{"x":0.193,"y":0.034},{"x":0.222,"y":0.034},{"x":0.256,"y":0.034},{"x":0.289,"y":0.034},{"x":0.327,"y":0.034},
{"x":0.004,"y":0.027},{"x":0.031,"y":0.027},{"x":0.062,"y":0.027},{"x":0.091,"y":0.027},{"x":0.121,"y":0.027},{"x":0.151,"y":0.027},{"x":0.182,"y":0.027},{"x":0.213,"y":0.027},{"x":0.247,"y":0.027},{"x":0.281,"y":0.027},
{"x":0.018,"y":0.02},{"x":0.048,"y":0.02},{"x":0.078,"y":0.02},{"x":0.109,"y":0.02},{"x":0.139,"y":0.02},{"x":0.172,"y":0.02},{"x":0.204,"y":0.02},{"x":0.236,"y":0.02},{"x":0.298,"y":0.02},
{"x":0.009,"y":0.013},{"x":0.037,"y":0.013},{"x":0.068,"y":0.013},{"x":0.098,"y":0.013},{"x":0.131,"y":0.013},{"x":0.163,"y":0.013},{"x":0.197,"y":0.013},{"x":0.262,"y":0.013},
{"x":0.026,"y":0.006},{"x":0.058,"y":0.006},{"x":0.087,"y":0.006},{"x":0.121,"y":0.006},{"x":0.158,"y":0.006},{"x":0.214,"y":0.006},
{"x":0.046,"y":-0.002},{"x":0.082,"y":-0.002},{"x":0.132,"y":-0.002},{"x":0.19,"y":-0.002},
{"x":0.47,"y":0.112},{"x":0.5,"y":0.104},{"x":0.48,"y":0.088},{"x":0.52,"y":0.095},{"x":0.55,"y":0.108},{"x":0.51,"y":0.072},{"x":0.49,"y":0.06},{"x":0.53,"y":0.083},{"x":0.56,"y":0.09},{"x":0.58,"y":0.1},{"x":0.6,"y":0.112},{"x":0.62,"y":0.095},{"x":0.57,"y":0.075},{"x":0.6,"y":0.082},{"x":0.54,"y":0.062},{"x":0.5,"y":0.045},{"x":0.47,"y":0.035},{"x":0.52,"y":0.052},{"x":0.56,"y":0.058},{"x":0.59,"y":0.066},{"x":0.63,"y":0.078},{"x":0.65,"y":0.09},{"x":0.67,"y":0.1},{"x":0.64,"y":0.11},{"x":0.68,"y":0.083},{"x":0.61,"y":0.054},{"x":0.58,"y":0.043},{"x":0.55,"y":0.036},{"x":0.49,"y":0.024},{"x":0.53,"y":0.028},{"x":0.62,"y":0.065},{"x":0.66,"y":0.07},{"x":0.7,"y":0.095},{"x":0.71,"y":0.076},{"x":0.69,"y":0.062},{"x":0.46,"y":0.07},{"x":0.46,"y":0.05},{"x":0.5,"y":0.125},{"x":0.57,"y":0.12},{"x":0.63,"y":0.125},{"x":0.44,"y":0.12},{"x":0.41,"y":0.125},{"x":0.45,"y":0.092},
{"x":0.74,"y":0.108},{"x":0.76,"y":0.098},{"x":0.78,"y":0.115},{"x":0.8,"y":0.1},{"x":0.82,"y":0.12},{"x":0.77,"y":0.085},{"x":0.73,"y":0.072},{"x":0.79,"y":0.07},{"x":0.83,"y":0.09},{"x":0.86,"y":0.105},{"x":0.88,"y":0.082},{"x":0.75,"y":0.13},{"x":0.81,"y":0.135},{"x":0.72,"y":0.045},{"x":0.76,"y":0.055},{"x":0.74,"y":0.125},
{"x":1.07,"y":0.235},{"x":0.932,"y":0.193},{"x":0.896,"y":0.183},{"x":1.136,"y":0.172},{"x":1.023,"y":0.171},{"x":1.094,"y":0.156},{"x":1.035,"y":0.145},{"x":1.067,"y":0.122},{"x":1.042,"y":0.111},{"x":1.071,"y":0.079},{"x":1.041,"y":0.038},{"x":1.276,"y":0.009},{"x":0.984,"y":0.0},{"x":0.966,"y":0.128},{"x":0.927,"y":0.129},{"x":0.918,"y":0.118},{"x":0.911,"y":0.1},{"x":0.875,"y":0.14},{"x":0.883,"y":0.111},{"x":0.996,"y":0.088},{"x":0.966,"y":0.089},{"x":0.956,"y":0.074},{"x":0.838,"y":0.165},{"x":0.845,"y":0.168},{"x":0.76,"y":0.167},{"x":0.738,"y":0.176},{"x":0.65,"y":0.171},{"x":0.559,"y":0.169},{"x":0.553,"y":0.157},{"x":0.431,"y":0.156},{"x":0.468,"y":0.152},{"x":0.462,"y":0.145},{"x":0.389,"y":0.188},{"x":0.191,"y":0.166},{"x":0.331,"y":0.139},{"x":0.273,"y":0.134},{"x":0.249,"y":0.125},{"x":0.122,"y":0.144},{"x":0.079,"y":0.13},{"x":0.115,"y":0.131},{"x":0.064,"y":0.099},{"x":0.784,"y":0.03},{"x":0.717,"y":-0.009},{"x":0.705,"y":0.016},{"x":0.708,"y":0.023},{"x":0.681,"y":0.047},{"x":0.705,"y":0.043},{"x":0.638,"y":-0.001},{"x":0.644,"y":0.0},{"x":0.608,"y":-0.008},{"x":0.553,"y":0.011},{"x":0.602,"y":0.022},{"x":0.504,"y":-0.005},{"x":0.498,"y":-0.031},{"x":0.429,"y":-0.083},{"x":0.3,"y":-0.081},{"x":0.286,"y":-0.096},{"x":0.352,"y":-0.059},{"x":0.356,"y":-0.032},{"x":0.267,"y":-0.028},{"x":0.204,"y":-0.072},{"x":0.194,"y":-0.052},{"x":0.146,"y":-0.091},{"x":0.079,"y":-0.114},{"x":0.04,"y":-0.164},{"x":0.064,"y":-0.163},{"x":0.091,"y":-0.06},{"x":0.164,"y":-0.033},{"x":0.134,"y":-0.033},{"x":0.103,"y":-0.023},{"x":0.055,"y":-0.036},{"x":0.419,"y":-0.019},{"x":0.383,"y":-0.006},{"x":0.377,"y":-0.001},{"x":0.316,"y":0.003},
{"x":0.05,"y":-0.01},{"x":0.1,"y":-0.015},{"x":0.15,"y":-0.008},{"x":0.2,"y":-0.012},{"x":0.25,"y":-0.02},{"x":0.12,"y":-0.045},{"x":0.03,"y":-0.06},{"x":0.22,"y":-0.05},{"x":0.18,"y":-0.025},{"x":0.32,"y":-0.015},{"x":0.08,"y":-0.03},{"x":0.27,"y":-0.04}
]
},
"vconcat":[
{
"width":735,"height":301.6,
"resolve":{"scale":{"x":"independent"},"axis":{"x":"independent"}},
"layer":[
{"data":{"name":"histogram"},"mark":{"type":"bar"},
"encoding":{
"x":{"field":"k","type":"nominal","title":"Kg/d","scale":{"domain":["-1.5","-1.25","-1","-0.75","-0.5","-0.25","0","0.25","0.5","0.75","1","1.25","1.5"],"paddingInner":0.33,"paddingOuter":0.7186,"align":0.885},"axis":{"labelAngle":0,"tickBand":"extent","domain":false,"labelPadding":20,"titleX":360.7,"titleY":69.4,"titleBaseline":"middle","minExtent":173.3}},
"xOffset":{"field":"s","type":"nominal","scale":{"domain":["AFI","RFI","ADG"]}},
"y":{"field":"n","type":"quantitative","title":"Number of EBVs","scale":{"domain":[0,2500],"nice":false},"axis":{"values":[0,500,1000,1500,2000,2500],"format":"d","offset":-57.7,"labelPadding":10,"minExtent":107,"titleX":-81,"titleY":152,"titleBaseline":"middle"}},
"color":{"field":"s","type":"nominal","scale":{"domain":["AFI","RFI","ADG"],"range":["#4F81BD","#C0504D","#9BBB59"]},"legend":{"orient":"none","legendX":270.2,"legendY":402,"direction":"horizontal","title":null,"symbolType":"square","symbolSize":110,"labelOffset":7,"columnPadding":6}}
}},
{"data":{"values":[{"k":"1.5","n":2207,"t":"A"}]},"mark":{"type":"text","font":"Lato","fontSize":34,"align":"center","baseline":"middle","color":"black"},
"encoding":{"x":{"field":"k","type":"nominal","title":"Kg/d","scale":{"type":"band","domain":["-1.5","-1.25","-1","-0.75","-0.5","-0.25","0","0.25","0.5","0.75","1","1.25","1.5"],"paddingInner":0.33,"paddingOuter":0.7186,"align":0.885},"axis":null},"y":{"field":"n","type":"quantitative","title":"Number of EBVs"},"text":{"field":"t"}}},
{"data":{"values":[{"lo":-1.625,"hi":1.625,"n":0}]},"mark":{"type":"rule","color":"#868686","strokeWidth":1},
"encoding":{"x":{"field":"lo","type":"quantitative","scale":{"domain":[-1.9019,1.625],"nice":false,"zero":false},"axis":null},"x2":{"field":"hi"},"y":{"field":"n","type":"quantitative","title":"Number of EBVs"}}}
]
},
{
"width":729.4,"height":389.3,
"layer":[
{"data":{"name":"afi_accuracy"},"mark":{"type":"point","filled":true,"opacity":1,"size":28},
"encoding":{
"x":{"field":"x","type":"quantitative","title":"EBV","scale":{"domain":[-1.5,1.5],"nice":false},"axis":{"values":[-1.5,-1,-0.5,0,0.5,1,1.5],"labelExpr":"replace(format(datum.value,'.2f'),'\u2212','-')","labelPadding":19,"titleX":366,"titleY":75,"titleBaseline":"middle","zindex":1}},
"y":{"field":"y","type":"quantitative","title":"Accuracy","scale":{"domain":[0,0.7],"nice":false},"axis":{"values":[0,0.1,0.2,0.3,0.4,0.5,0.6,0.7],"format":".2f","offset":-365,"minExtent":414.3,"labelPadding":10,"titleX":-378.3,"titleY":195.6,"titleBaseline":"middle","zindex":1}},
"color":{"datum":"AFI","scale":{"domain":["AFI","RFI","ADG"],"range":["#4A7EBB","#BE4B48","#98B954"]},"legend":{"orient":"none","legendX":276,"legendY":512.3,"direction":"horizontal","title":null,"symbolSize":25,"labelOffset":8,"columnPadding":3}},
"shape":{"datum":"AFI","scale":{"domain":["AFI","RFI","ADG"],"range":["diamond","square","triangle-up"]},"legend":{"orient":"none","legendX":276,"legendY":512.3,"direction":"horizontal","title":null,"symbolSize":25,"labelOffset":8,"columnPadding":3}}
}},
{"data":{"name":"rfi_accuracy"},"mark":{"type":"point","filled":true,"opacity":1,"size":40},
"encoding":{"x":{"field":"x","type":"quantitative","title":"EBV"},"y":{"field":"y","type":"quantitative","title":"Accuracy"},"color":{"datum":"RFI"},"shape":{"datum":"RFI"}}},
{"data":{"name":"adg_accuracy"},"mark":{"type":"point","filled":true,"opacity":1,"size":36},
"encoding":{"x":{"field":"x","type":"quantitative","title":"EBV"},"y":{"field":"y","type":"quantitative","title":"Accuracy"},"color":{"datum":"ADG"},"shape":{"datum":"ADG"}}},
{"data":{"values":[{"x":1.411,"y":0.639,"t":"B"}]},"mark":{"type":"text","font":"Lato","fontSize":34,"align":"center","baseline":"middle","color":"black"},
"encoding":{"x":{"field":"x","type":"quantitative","title":"EBV"},"y":{"field":"y","type":"quantitative","title":"Accuracy"},"text":{"field":"t"}}}
]
},
{
"width":734.4,"height":413.3,
"layer":[
{"data":{"values":[{"x":-1.3,"x2":1.3,"y":0}]},"mark":{"type":"rule","color":"#868686","strokeWidth":1},
"encoding":{"x":{"field":"x","type":"quantitative","title":"AFI EBV","scale":{"domain":[-1.37653,1.3],"nice":false,"zero":false},"axis":{"values":[-1.3,-1.1,-0.9,-0.7,-0.5,-0.3,-0.1,0.1,0.3,0.5,0.7,0.9,1.1,1.3],"labelExpr":"replace(format(datum.value,'.1f'),'\u2212','-')","domain":false,"offset":-206.6,"labelPadding":20,"titleX":384.7,"titleY":255.8,"titleBaseline":"middle","zindex":1}},"x2":{"field":"x2"},
"y":{"field":"y","type":"quantitative","title":"ADG EBV","scale":{"domain":[-0.3,0.3],"nice":false},"axis":{"values":[-0.3,-0.2,-0.1,0,0.1,0.2,0.3],"labelExpr":"replace(format(datum.value,'.1f'),'\u2212','-')","offset":-377.7,"minExtent":427,"labelPadding":11,"titleX":-414.3,"titleY":209,"titleBaseline":"middle","zindex":1}}}},
{"data":{"name":"afi_adg"},"mark":{"type":"point","shape":"diamond","filled":true,"opacity":1,"size":40,"color":"#4A7EBB"},
"encoding":{"x":{"field":"x","type":"quantitative","title":"AFI EBV"},"y":{"field":"y","type":"quantitative","title":"ADG EBV"}}},
{"data":{"values":[{"x":1.214,"y":0.341,"t":"C"}]},"mark":{"type":"text","font":"Lato","fontSize":34,"align":"center","baseline":"middle","color":"black"},
"encoding":{"x":{"field":"x","type":"quantitative","title":"AFI EBV"},"y":{"field":"y","type":"quantitative","title":"ADG EBV"},"text":{"field":"t"}}}
]
}
]
}
